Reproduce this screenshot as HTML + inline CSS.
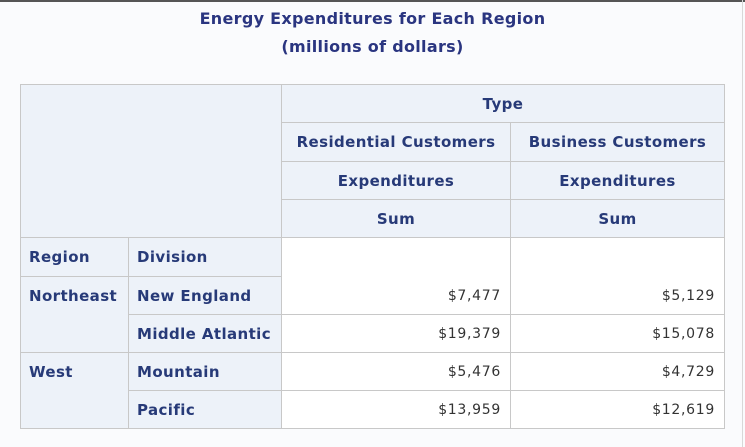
<!DOCTYPE html>
<html><head><style>
body{margin:0;width:745px;height:447px;background:#fafbfd;font-family:"DejaVu Sans","Liberation Sans",sans-serif;position:relative;overflow:hidden}
.top{position:absolute;left:0;top:0;width:745px;height:2px;background:#555}
.rb{position:absolute;left:742px;top:0;width:1px;height:447px;background:#d8d8d8}
.t{position:absolute;left:0;width:745px;text-align:center;color:#2a3580;font-weight:bold;font-size:16px;letter-spacing:0.3px}
.c{position:absolute;box-sizing:border-box;border:1px solid #c8c8c8;display:flex;align-items:center;font-size:15px;letter-spacing:0.4px;white-space:nowrap}
.h{background:#edf2f9;color:#273a78;font-weight:bold;justify-content:center}
.l{justify-content:flex-start;padding-left:8px}
.d{background:#fff;color:#333;justify-content:flex-end;padding-right:9px;font-size:14px;letter-spacing:0.7px}
</style></head><body>
<div class="top"></div><div class="rb"></div>
<div class="t" style="top:9px">Energy Expenditures for Each Region</div>
<div class="t" style="top:37px">(millions of dollars)</div>

<div class="c h" style="left:20px;top:84px;width:262px;height:154px"></div>
<div class="c h" style="left:281px;top:84px;width:444px;height:39px">Type</div>
<div class="c h" style="left:281px;top:122px;width:230px;height:40px">Residential Customers</div>
<div class="c h" style="left:510px;top:122px;width:215px;height:40px">Business Customers</div>
<div class="c h" style="left:281px;top:161px;width:230px;height:39px">Expenditures</div>
<div class="c h" style="left:510px;top:161px;width:215px;height:39px">Expenditures</div>
<div class="c h" style="left:281px;top:199px;width:230px;height:39px">Sum</div>
<div class="c h" style="left:510px;top:199px;width:215px;height:39px">Sum</div>

<div class="c h l" style="left:20px;top:237px;width:109px;height:40px">Region</div>
<div class="c h l" style="left:128px;top:237px;width:154px;height:40px">Division</div>
<div class="c d" style="left:281px;top:237px;width:230px;height:78px;align-items:flex-end;padding-bottom:10px">$7,477</div>
<div class="c d" style="left:510px;top:237px;width:215px;height:78px;align-items:flex-end;padding-bottom:10px">$5,129</div>

<div class="c h l" style="left:20px;top:276px;width:109px;height:77px;align-items:flex-start;padding-top:10px">Northeast</div>
<div class="c h l" style="left:128px;top:276px;width:154px;height:39px">New England</div>
<div class="c h l" style="left:128px;top:314px;width:154px;height:39px">Middle Atlantic</div>
<div class="c d" style="left:281px;top:314px;width:230px;height:39px">$19,379</div>
<div class="c d" style="left:510px;top:314px;width:215px;height:39px">$15,078</div>

<div class="c h l" style="left:20px;top:352px;width:109px;height:77px;align-items:flex-start;padding-top:10px">West</div>
<div class="c h l" style="left:128px;top:352px;width:154px;height:39px">Mountain</div>
<div class="c d" style="left:281px;top:352px;width:230px;height:39px">$5,476</div>
<div class="c d" style="left:510px;top:352px;width:215px;height:39px">$4,729</div>
<div class="c h l" style="left:128px;top:390px;width:154px;height:39px">Pacific</div>
<div class="c d" style="left:281px;top:390px;width:230px;height:39px">$13,959</div>
<div class="c d" style="left:510px;top:390px;width:215px;height:39px">$12,619</div>
</body></html>
